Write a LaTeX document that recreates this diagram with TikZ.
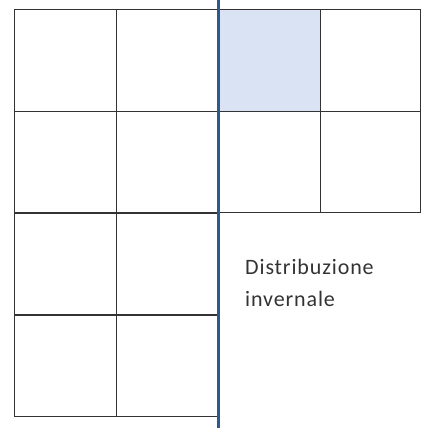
\documentclass[tikz,border=0pt]{standalone}
\usepackage{fontspec}
\setmainfont{Carlito}
\usepackage{xcolor}
\usepackage{tikz}
\usetikzlibrary{positioning}
\definecolor{divblue}{RGB}{44,90,140}
\definecolor{cellfill}{RGB}{218,227,243}

\begin{document}
\begin{tikzpicture}[x=1pt,y=-1pt,
  cell/.style={draw=black!80,line width=1pt,minimum width=102pt,minimum height=101.5pt,inner sep=0pt},
  note/.style={anchor=north west,inner sep=0pt,align=left,text=black!80,font=\fontsize{22}{32}\selectfont\addfontfeatures{LetterSpace=4}}]
  \useasboundingbox (0,0) rectangle (421,428);
  % left block
  \node[cell] (a1) at (65,60.5) {};
  \node[cell] (b1) at (167,60.5) {};
  \node[cell] (a2) at (65,162) {};
  \node[cell] (b2) at (167,162) {};
  \node[cell] (a3) at (65,264) {};
  \node[cell] (b3) at (167,264) {};
  \node[cell] (a4) at (65,366) {};
  \node[cell] (b4) at (167,366) {};
  % right block
  \node[cell,fill=cellfill] (c1) at (269,60.5) {};
  \node[cell,minimum width=100pt] (d1) at (370,60.5) {};
  \node[cell] (c2) at (269,162) {};
  \node[cell,minimum width=100pt] (d2) at (370,162) {};
  % divider
  \coordinate (top) at (218,0);
  \coordinate (bot) at (218,428);
  \draw[divblue,line width=3pt] (top) -- (bot);
  \node[note] (txt) at (245,259) {Distribuzione\\invernale};
\end{tikzpicture}
\end{document}
